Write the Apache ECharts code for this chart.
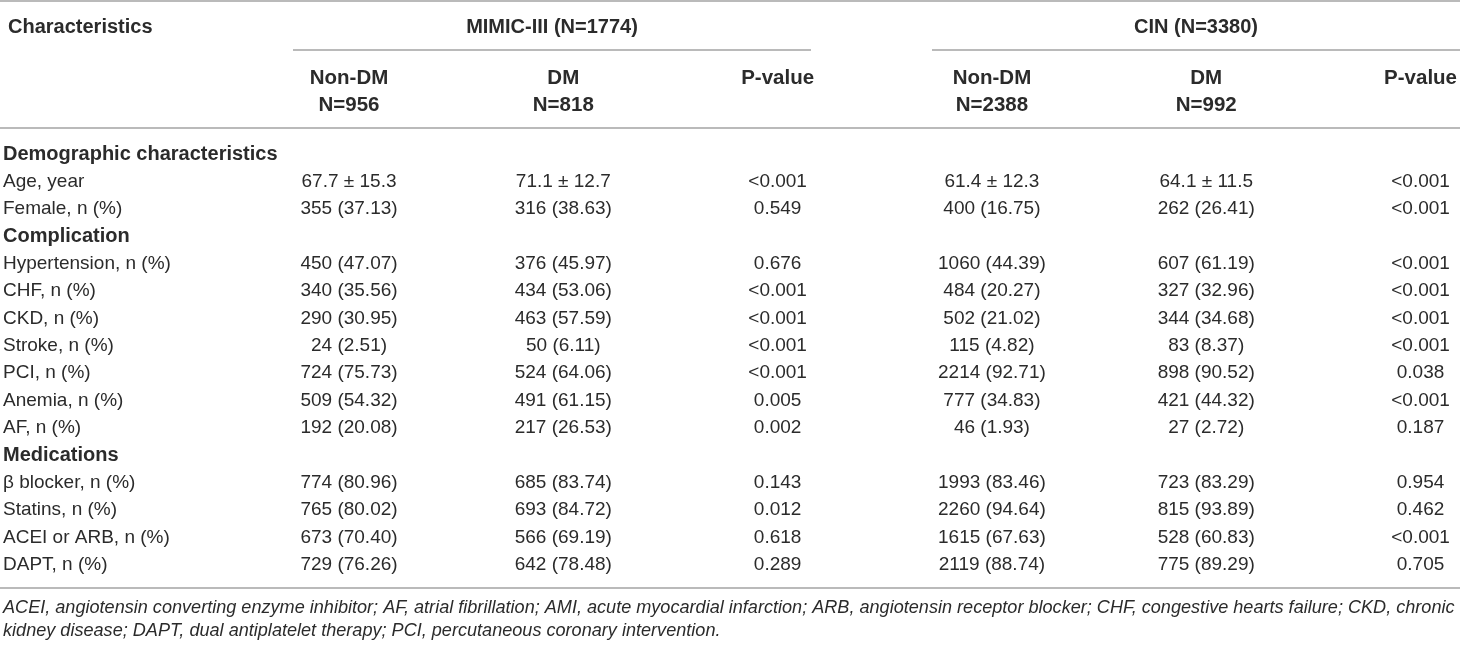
<!DOCTYPE html>
<html>
<head>
<meta charset="utf-8">
<script src="https://cdn.jsdelivr.net/npm/echarts@6/dist/echarts.min.js"></script>
<style>
  html, body { margin: 0; padding: 0; background: #fff; }
  #table-chart { width: 1460px; height: 645px; }
</style>
</head>
<body>
<div id="table-chart"></div>
<script>
// row labels (first column)
var rowLabels = ['Demographic characteristics', 'Age, year', 'Female, n (%)', 'Complication',
    'Hypertension, n (%)', 'CHF, n (%)', 'CKD, n (%)', 'Stroke, n (%)', 'PCI, n (%)', 'Anemia, n (%)',
    'AF, n (%)', 'Medications', 'β blocker, n (%)', 'Statins, n (%)', 'ACEI or ARB, n (%)', 'DAPT, n (%)']
var groupRows = ['Demographic characteristics', 'Complication', 'Medications']

// column headers
var colHeaders = ['Non-DM\nN=956', 'DM\nN=818', 'P-value\n ', 'Non-DM\nN=2388', 'DM\nN=992', 'P-value\n ']
var groupTitles = ['MIMIC-III (N=1774)', 'CIN (N=3380)']

// MIMIC-III
var mimicNonDM = ['', '67.7 ± 15.3', '355 (37.13)', '', '450 (47.07)', '340 (35.56)', '290 (30.95)', '24 (2.51)',
    '724 (75.73)', '509 (54.32)', '192 (20.08)', '', '774 (80.96)', '765 (80.02)', '673 (70.40)', '729 (76.26)']
var mimicDM = ['', '71.1 ± 12.7', '316 (38.63)', '', '376 (45.97)', '434 (53.06)', '463 (57.59)', '50 (6.11)',
    '524 (64.06)', '491 (61.15)', '217 (26.53)', '', '685 (83.74)', '693 (84.72)', '566 (69.19)', '642 (78.48)']
var mimicP = ['', '<0.001', '0.549', '', '0.676', '<0.001', '<0.001', '<0.001',
    '<0.001', '0.005', '0.002', '', '0.143', '0.012', '0.618', '0.289']

// CIN
var cinNonDM = ['', '61.4 ± 12.3', '400 (16.75)', '', '1060 (44.39)', '484 (20.27)', '502 (21.02)', '115 (4.82)',
    '2214 (92.71)', '777 (34.83)', '46 (1.93)', '', '1993 (83.46)', '2260 (94.64)', '1615 (67.63)', '2119 (88.74)']
var cinDM = ['', '64.1 ± 11.5', '262 (26.41)', '', '607 (61.19)', '327 (32.96)', '344 (34.68)', '83 (8.37)',
    '898 (90.52)', '421 (44.32)', '27 (2.72)', '', '723 (83.29)', '815 (93.89)', '528 (60.83)', '775 (89.29)']
var cinP = ['', '<0.001', '<0.001', '', '<0.001', '<0.001', '<0.001', '<0.001',
    '0.038', '<0.001', '0.187', '', '0.954', '0.462', '<0.001', '0.705']

var footnote = 'ACEI, angiotensin converting enzyme inhibitor; AF, atrial fibrillation; AMI, acute myocardial infarction; ARB, angiotensin receptor blocker; CHF, congestive hearts failure; CKD, chronic\n' +
    'kidney disease; DAPT, dual antiplatelet therapy; PCI, percutaneous coronary intervention.'

var columns = [mimicNonDM, mimicDM, mimicP, cinNonDM, cinDM, cinP]

var FONT = "'Liberation Sans', Arial, Helvetica, sans-serif"
var TXT = '#2b2b2b'
var RULE = '#a3a3a3'

// cells -> [colIndex, rowIndex], text kept aside by dataIndex
var cellData = []
var cellText = []
columns.forEach(function (col, c) {
    col.forEach(function (txt, r) {
        if (txt === '') return
        cellData.push([c, r])
        cellText.push(txt)
    })
})

function hLine(x1, x2, y) {
    return {
        type: 'line',
        shape: {x1: x1, y1: y, x2: x2, y2: y},
        style: {stroke: RULE, lineWidth: 1.5}
    }
}

function label(txt, x, y, align, size, bold, italic) {
    return {
        type: 'text',
        x: x,
        y: y,
        style: {
            text: txt,
            align: align,
            verticalAlign: 'middle',
            fontFamily: FONT,
            fontSize: size,
            fontWeight: bold ? 'bold' : 'normal',
            fontStyle: italic ? 'italic' : 'normal',
            fill: TXT,
            lineHeight: 23
        }
    }
}

var myChart = echarts.init(document.getElementById('table-chart'))

var option = {
    animation: false,
    grid: {
        left: 349,
        right: 39,
        top: 140.3,
        bottom: 66.3
    },
    xAxis: {
        type: 'category',
        position: 'top',
        data: colHeaders,
        boundaryGap: false,
        axisLine: {show: false},
        axisTick: {show: false},
        splitLine: {show: false},
        axisLabel: {
            interval: 0,
            margin: 21,
            fontFamily: FONT,
            fontSize: 20.5,
            fontWeight: 'bold',
            color: TXT,
            lineHeight: 27
        }
    },
    yAxis: {
        type: 'category',
        data: rowLabels,
        inverse: true,
        axisLine: {show: false},
        axisTick: {show: false},
        splitLine: {show: false},
        axisLabel: {
            interval: 0,
            align: 'left',
            margin: 346,
            fontFamily: FONT,
            fontSize: 19,
            color: TXT,
            formatter: function (v) {
                return groupRows.indexOf(v) > -1 ? '{g|' + v + '}' : v
            },
            rich: {
                g: {fontFamily: FONT, fontSize: 20, fontWeight: 'bold', color: TXT}
            }
        }
    },
    graphic: [
        hLine(0, 1460, 1),
        hLine(293, 811, 50),
        hLine(932, 1460, 50),
        hLine(0, 1460, 128),
        hLine(0, 1460, 588),
        label('Characteristics', 8, 27, 'left', 20, true),
        label(groupTitles[0], 552, 27, 'center', 20, true),
        label(groupTitles[1], 1196, 27, 'center', 20, true),
        label(footnote, 3, 619, 'left', 18.1, false, true)
    ],
    series: [{
        type: 'custom',
        coordinateSystem: 'cartesian2d',
        data: cellData,
        renderItem: function (params, api) {
            var p = api.coord([api.value(0), api.value(1)])
            return {
                type: 'text',
                x: p[0],
                y: p[1],
                style: {
                    text: cellText[params.dataIndex],
                    align: 'center',
                    verticalAlign: 'middle',
                    fontFamily: FONT,
                    fontSize: 19,
                    fill: TXT
                }
            }
        }
    }]
}

myChart.setOption(option)
</script>
</body>
</html>
